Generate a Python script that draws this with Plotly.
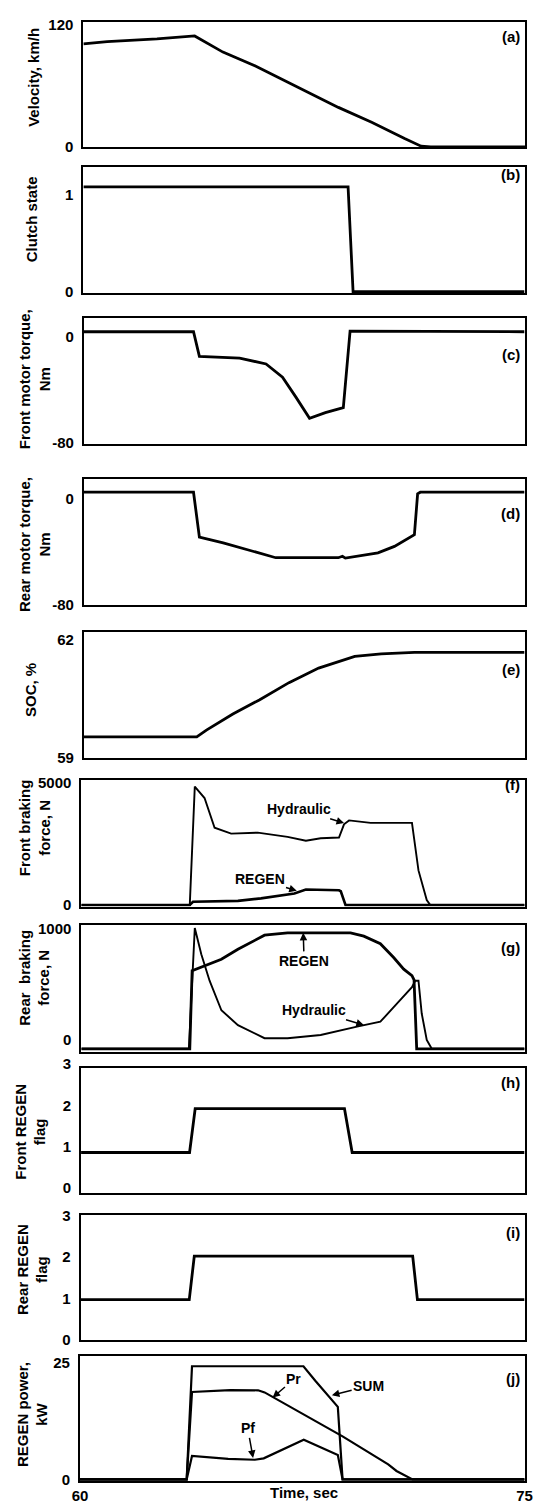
import plotly.graph_objects as go

# ---------------- data ----------------
# (a) velocity, km/h
t_vel = [60.0, 60.81, 62.50, 63.50, 63.78, 64.74, 65.86, 68.66, 69.79, 70.91, 71.47, 71.80, 75.0]
v_vel = [101.6, 103.8, 106.4, 108.7, 109.3, 93.4, 79.5, 38.9, 24.3, 8.2, 0.7, 0.0, 0.0]

# (b) clutch state
t_clutch = [60.0, 69.00, 69.17, 75.0]
v_clutch = [1.08, 1.08, 0.0, 0.0]

# (c) front motor torque, Nm
t_ftq = [60.0, 63.73, 63.93, 65.30, 66.20, 66.76, 67.21, 67.68, 68.22, 68.83, 69.06, 75.0]
v_ftq = [3.7, 3.7, -14.8, -16.1, -20.5, -30.4, -45.2, -61.3, -57.0, -53.3, 4.2, 3.7]

# (d) rear motor torque, Nm
t_rtq = [60.0, 63.73, 63.93, 64.74, 65.75, 66.53, 68.66, 68.80, 68.90, 70.01, 70.57, 71.25, 71.36, 71.45, 75.0]
v_rtq = [4.9, 4.9, -29.1, -33.5, -39.8, -44.7, -44.7, -43.6, -45.0, -41.0, -36.1, -27.3, 3.7, 4.9, 4.9]

# (e) SOC, %
t_soc = [60.0, 63.84, 64.17, 65.07, 65.97, 66.98, 67.99, 69.22, 70.12, 71.25, 75.0]
v_soc = [59.52, 59.52, 59.69, 60.10, 60.46, 60.90, 61.27, 61.57, 61.63, 61.67, 61.67]

# (f) front braking force, N
t_fhyd = [60.0, 63.67, 63.84, 64.17, 64.51, 65.07, 65.97, 66.98, 67.60, 68.10, 68.72, 68.89, 69.06, 69.79, 71.19, 71.30, 71.41, 71.69, 71.81, 75.0]
v_fhyd = [0, 0, 4830, 4360, 3150, 2910, 2950, 2780, 2620, 2720, 2750, 3290, 3450, 3350, 3350, 2480, 1410, 200, 0, 0]
t_freg = [60.0, 63.67, 63.78, 65.30, 66.08, 67.21, 67.60, 68.72, 68.78, 68.94, 75.0]
v_freg = [0, 0, 130, 170, 270, 470, 630, 600, 560, 0, 0]

# (g) rear braking force, N
t_rreg = [60.0, 63.67, 63.75, 64.17, 64.74, 65.30, 66.20, 66.98, 69.11, 69.56, 70.12, 70.57, 70.91, 71.19, 71.26, 71.35, 75.0]
v_rreg = [-80, -80, 621, 665, 725, 814, 941, 962, 962, 932, 864, 740, 636, 577, 540, -80, -80]
t_rhyd = [60.0, 63.64, 63.84, 64.06, 64.34, 64.74, 65.30, 66.20, 66.98, 68.10, 69.33, 70.12, 70.68, 71.19, 71.30, 71.41, 71.52, 71.69, 71.86, 75.0]
v_rhyd = [-80, -80, 1006, 769, 532, 266, 133, 15, 15, 44, 119, 163, 326, 474, 532, 532, 237, 0, -80, -80]

# (h) front REGEN flag
t_hflag = [60.0, 63.67, 63.86, 68.91, 69.17, 75.0]
v_hflag = [0.98, 0.98, 2.04, 2.04, 0.98, 0.98]

# (i) rear REGEN flag
t_iflag = [60.0, 63.67, 63.84, 71.22, 71.38, 75.0]
v_iflag = [0.97, 0.97, 2.02, 2.02, 0.97, 0.97]

# (j) REGEN power, kW
t_sum = [60.0, 63.60, 63.78, 67.54, 67.94, 68.70, 68.86, 75.0]
v_sum = [0, 0, 24.2, 24.2, 21.1, 15.5, 0, 0]
t_pr = [60.0, 63.60, 63.78, 65.07, 66.01, 66.23, 68.86, 70.40, 70.68, 71.22, 75.0]
v_pr = [0, 0, 18.7, 19.1, 19.05, 18.6, 9.2, 3.2, 1.8, 0, 0]
t_pf = [60.0, 63.60, 63.78, 65.00, 65.90, 66.20, 67.55, 68.70, 68.86, 75.0]
v_pf = [0, 0, 5.0, 4.4, 4.2, 4.5, 8.5, 5.2, 0, 0]

x_ticks = [60, 75]
titles = ["Velocity, km/h", "Clutch state", "Front motor torque,<br>Nm", "Rear motor torque,<br>Nm",
          "SOC, %", "Front braking<br>force, N", "Rear  braking<br>force, N", "Front REGEN<br>flag",
          "Rear REGEN<br>flag", "REGEN power,<br>kW"]
panel_tags = ["(a)", "(b)", "(c)", "(d)", "(e)", "(f)", "(g)", "(h)", "(i)", "(j)"]
y_ticks = [[0, 120], [0, 1], [-80, 0], [-80, 0], [59, 62], [0, 5000], [0, 1000], [0, 1, 2, 3], [0, 1, 2, 3], [0, 25]]

# ---------------- layout geometry (pixels) ----------------
W, H = 534, 1508
FONT = "Arial, 'Liberation Sans', Helvetica, sans-serif"
geom = [  # left, right, top, bottom, y-range, ticklabelshift
    (77.7, 533, 10, 137.3, [-0.6, 123.2], 0),
    (77.7, 532.5, 157, 285, [-0.017, 1.285], 0),
    (78.3, 532.5, 310, 437.7, [-80.5, 14.1], 0),
    (78.3, 532.5, 473.3, 600.7, [-80.3, 14.9], 0),
    (78.3, 532.5, 628.3, 755.7, [58.99, 62.19], 0),
    (75.6, 532.5, 778.3, 906.7, [-68, 5097], 0),
    (75.6, 532.5, 925, 1054, [-109, 1035], 0),
    (75.3, 532.5, 1070, 1197.3, [-0.01, 3.03], -5),
    (74.9, 532.5, 1219.3, 1346, [-0.005, 3.005], 0),
    (74.2, 532.5, 1362, 1489, [-0.4, 26.4], 0),
]
title_pos = [(25.5, 66), (23.8, 210), (27, 372), (28, 540), (23.8, 687),
             (27, 827), (26.5, 979), (23.5, 1135), (24.7, 1274), (24.7, 1421)]
tag_pos = [25, 165, 346.7, 508, 666.7, 783, 948, 1085, 1236.7, 1385]

fig = go.Figure()

series = [
    (1, t_vel, v_vel, 2.8), (2, t_clutch, v_clutch, 2.8), (3, t_ftq, v_ftq, 2.8),
    (4, t_rtq, v_rtq, 2.8), (5, t_soc, v_soc, 2.8), (6, t_fhyd, v_fhyd, 1.9),
    (6, t_freg, v_freg, 2.6), (7, t_rhyd, v_rhyd, 1.9), (7, t_rreg, v_rreg, 2.8),
    (8, t_hflag, v_hflag, 2.8), (9, t_iflag, v_iflag, 2.8),
    (10, t_sum, v_sum, 2.2), (10, t_pr, v_pr, 2.2), (10, t_pf, v_pf, 2.2),
]
for i, t, v, w in series:
    fig.add_trace(go.Scatter(x=t, y=v, mode="lines", line=dict(color="black", width=w),
                             xaxis="x" if i == 1 else f"x{i}", yaxis="y" if i == 1 else f"y{i}",
                             showlegend=False, hoverinfo="skip"))

tickfont = dict(family=FONT, size=15, color="black")
for i, (l, r, tp, bt, yr, shift) in enumerate(geom, 1):
    sx = "" if i == 1 else str(i)
    fig.layout[f"xaxis{sx}"] = dict(
        domain=[l / W, r / W], range=[60, 75], anchor=f"y{sx}",
        showline=True, mirror=True, linecolor="black", linewidth=2,
        showgrid=False, zeroline=False, ticks="",
        showticklabels=(i == 10), tickvals=x_ticks, ticktext=[f"<b>{v}</b>" for v in x_ticks],
        tickfont=tickfont, ticklabeloverflow="allow")
    yt = y_ticks[i - 1]
    fig.layout[f"yaxis{sx}"] = dict(
        domain=[1 - bt / H, 1 - tp / H], range=yr, anchor=f"x{sx}",
        showline=True, mirror=True, linecolor="black", linewidth=2,
        showgrid=False, zeroline=False, ticks="",
        tickvals=yt, ticktext=[f"<b>{v}</b>" for v in yt], tickfont=tickfont,
        ticklabelstandoff=5, ticklabelshift=shift, ticklabeloverflow="allow")

ann = []
for (x, y), txt in zip(title_pos, titles):
    ann.append(dict(x=x / W, y=1 - y / H, xref="paper", yref="paper", text=f"<b>{txt}</b>",
                    textangle=-90, showarrow=False, font=dict(family=FONT, size=15, color="black"),
                    xanchor="center", yanchor="middle"))
for y, tag in zip(tag_pos, panel_tags):
    ann.append(dict(x=530 / W, y=1 - y / H, xref="paper", yref="paper", text=f"<b>{tag}</b>",
                    showarrow=False, font=dict(family=FONT, size=15, color="black"),
                    xanchor="right", yanchor="middle"))
ann.append(dict(x=304.8 / W, y=1 - 1500 / H, xref="paper", yref="paper", text="<b>Time, sec</b>",
                showarrow=False, font=dict(family=FONT, size=15, color="black"),
                xanchor="center", yanchor="middle"))

# arrow callouts: (panel, text, head_x, head_y, text_x, text_y)
callouts = [
    (6, "Hydraulic", 68.89, 3340, 67.37, 3900),
    (6, "REGEN", 67.29, 580, 66.03, 1050),
    (7, "REGEN", 67.51, 962, 67.54, 710),
    (7, "Hydraulic", 69.56, 133, 67.88, 266),
    (10, "Pr", 66.50, 17.5, 67.22, 21.4),
    (10, "SUM", 68.50, 18.0, 69.74, 20.0),
    (10, "Pf", 65.84, 4.6, 65.66, 10.9),
]
for i, txt, hx, hy, tx, ty in callouts:
    ax_, ay_ = f"x{i}", f"y{i}"
    ann.append(dict(x=hx, y=hy, xref=ax_, yref=ay_, ax=tx, ay=ty, axref=ax_, ayref=ay_,
                    text=f"<b>{txt}</b>", showarrow=True, arrowhead=2, arrowsize=1,
                    arrowwidth=1.5, arrowcolor="black",
                    font=dict(family=FONT, size=14, color="black")))

fig.update_layout(width=W, height=H, margin=dict(l=0, r=0, t=0, b=0),
                  paper_bgcolor="white", plot_bgcolor="white", annotations=ann, showlegend=False)

fig.write_html("out.html", config={"displayModeBar": False},
               post_script="document.body.style.margin='0px';")
